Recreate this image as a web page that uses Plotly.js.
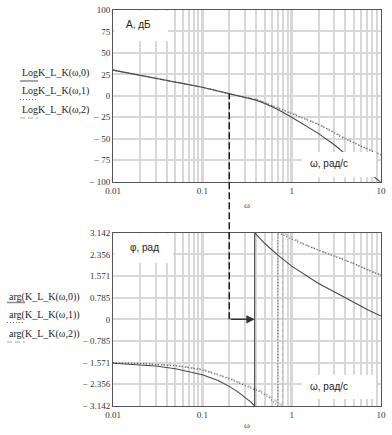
<!DOCTYPE html>
<html>
<head>
<meta charset="utf-8">
<script src="https://cdn.plot.ly/plotly-3.0.1.min.js"></script>
<style>
html,body{margin:0;padding:0;background:#fff;}
#chart{width:392px;height:435px;}
</style>
</head>
<body>
<div id="chart"></div>
<script>
// ---------- data ----------
const omegaMag = [0.01, 0.02, 0.05, 0.1, 0.2, 0.3, 0.4, 0.5, 0.7, 1, 1.5, 2, 3, 3.5, 5, 7, 10];
const mag0 = [30, 24, 16, 10, 2.5, -1.5, -5, -9, -16, -25, -36, -44, -57, -63, -76, -88, -101];
const mag1 = [30, 24, 16, 10, 2.5, -1.2, -4.5, -8, -14, -21, -28, -33.5, -43, -47.5, -55, -62, -69];
const mag2 = [30, 24, 16, 10, 2.6, -1.0, -4.2, -7.6, -13.5, -20.5, -27.5, -33, -42.5, -47, -54.5, -61.5, -68.5];

const omegaPh0 = [0.01, 0.02, 0.03, 0.05, 0.1, 0.15, 0.2, 0.25, 0.3, 0.35, 0.385, 0.385, 0.5, 0.7, 1, 1.5, 2, 3.5, 5, 7, 10];
const ph0 = [-1.59, -1.64, -1.69, -1.79, -2.01, -2.22, -2.43, -2.63, -2.82, -3.0, -3.142, 3.142, 2.75, 2.33, 1.93, 1.55, 1.3, 0.88, 0.6, 0.36, 0.12];

const omegaPh1 = [0.01, 0.02, 0.05, 0.1, 0.2, 0.265, 0.3, 0.44, 0.55, 0.63, 0.70, 0.70, 0.8, 1, 1.24, 1.5, 2, 3.5, 5, 7, 10];
const ph1 = [-1.575, -1.60, -1.68, -1.83, -2.16, -2.33, -2.40, -2.63, -2.82, -3.0, -3.142, 3.142, 3.05, 2.92, 2.77, 2.66, 2.5, 2.21, 2.02, 1.8, 1.6];

const omegaPh2 = [0.01, 0.02, 0.05, 0.1, 0.2, 0.3, 0.44, 0.55, 0.65, 0.79, 0.79, 1, 1.24, 1.5, 2, 3.5, 5, 7, 10];
const ph2 = [-1.573, -1.595, -1.67, -1.81, -2.13, -2.36, -2.58, -2.75, -2.92, -3.142, 3.142, 2.99, 2.8, 2.68, 2.51, 2.22, 2.02, 1.81, 1.61];

const omegaCut = 0.2;     // crossover frequency (dashed line)
const magAtCut = 2.5;
const omegaPi = 0.385;    // phase crossover (arrow end)

const xTickLabels = ['0.01', '0.1', '1', '10'];
const magTickVals = [100, 75, 50, 25, 0, -25, -50, -75, -100];
const magTickText = ['100', '75', '50', '25', '0', '\u2212 25', '\u2212 50', '\u2212 75', '\u2212 100'];
const phTickVals = [3.142, 2.356, 1.571, 0.785, 0, -0.785, -1.571, -2.356, -3.142];
const phTickText = ['3.142', '2.356', '1.571', '0.785', '0', '\u2212 0.785', '\u2212 1.571', '\u2212 2.356', '\u2212 3.142'];

const magLegend = ['LogK_L_K(\u03c9,0)', 'LogK_L_K(\u03c9,1)', 'LogK_L_K(\u03c9,2)'];
const phLegend = ['arg(K_L_K(\u03c9,0))', 'arg(K_L_K(\u03c9,1))', 'arg(K_L_K(\u03c9,2))'];

// ---------- layout geometry ----------
const L = 113, R = 11, T = 10, B = 29, FW = 392, FH = 435;
const W = FW - L - R, H = FH - T - B;
const px = x => (x - L) / W;
const py = y => 1 - (y - T) / H;
const topDom = [py(181.7), 1];
const botDom = [0, py(232.7)];
const topY = v => topDom[0] + (v + 100) / 200 * (topDom[1] - topDom[0]);
const botY = v => botDom[0] + (v + 3.142) / 6.284 * (botDom[1] - botDom[0]);

// log ticks (1..9 per decade) for the grid
const gridVals = [], gridText = [];
[0.01, 0.1, 1].forEach((d, i) => {
  for (let k = 1; k <= 9; k++) { gridVals.push(d * k); gridText.push(k === 1 ? xTickLabels[i] : ''); }
});
gridVals.push(10); gridText.push(xTickLabels[3]);

const styles = [
  {color: '#484848', width: 1.1, dash: 'solid'},
  {color: '#5a5a5a', width: 1.1, dash: '1px,2px'},
  {color: '#c2c2c2', width: 1.5, dash: '4px,2px'}
];
const sampleStyles = [
  {color: '#888', width: 1.5, dash: 'solid'},
  {color: '#777', width: 1.2, dash: '1px,2px'},
  {color: '#c8c8c8', width: 1.5, dash: '5px,3px'}
];

const traces = [
  {x: omegaMag, y: mag2, xaxis: 'x', yaxis: 'y', line: styles[2]},
  {x: omegaMag, y: mag1, xaxis: 'x', yaxis: 'y', line: styles[1]},
  {x: omegaMag, y: mag0, xaxis: 'x', yaxis: 'y', line: styles[0]},
  {x: omegaPh2, y: ph2, xaxis: 'x2', yaxis: 'y2', line: styles[2]},
  {x: omegaPh1, y: ph1, xaxis: 'x2', yaxis: 'y2', line: styles[1]},
  {x: omegaPh0, y: ph0, xaxis: 'x2', yaxis: 'y2', line: styles[0]}
].map(t => Object.assign({type: 'scatter', mode: 'lines', showlegend: false, hoverinfo: 'skip'}, t));

const tickFont = {family: 'Liberation Serif, Times New Roman, serif', size: 9, color: '#333'};
const xBase = {
  type: 'log', range: [-2, 1], tickmode: 'array', tickvals: gridVals, ticktext: gridText,
  showgrid: true, gridcolor: '#d8d8d8', gridwidth: 2, zeroline: false,
  showline: true, mirror: true, linecolor: '#555', linewidth: 1,
  ticks: '', tickfont: tickFont, fixedrange: true
};
const yBase = {
  tickmode: 'array', showgrid: true, gridcolor: '#d8d8d8', gridwidth: 2, zeroline: false,
  showline: true, mirror: true, linecolor: '#555', linewidth: 1,
  ticks: '', tickfont: tickFont, fixedrange: true
};

const shapes = [];
// major decade grid lines
[0.1, 1].forEach(v => {
  shapes.push({type: 'line', xref: 'x', yref: 'y domain', x0: v, x1: v, y0: 0, y1: 1, layer: 'below', line: {color: '#858585', width: 2}});
  shapes.push({type: 'line', xref: 'x2', yref: 'y2 domain', x0: v, x1: v, y0: 0, y1: 1, layer: 'below', line: {color: '#858585', width: 2}});
});
// white label boxes
const box = (x0, y0, x1, y1) => shapes.push({type: 'rect', xref: 'paper', yref: 'paper', x0: px(x0), x1: px(x1), y0: py(y1), y1: py(y0), fillcolor: '#fff', line: {width: 0}, layer: 'above'});
box(114.5, 10.5, 168, 41);
box(302, 152, 376, 177);
box(114.5, 233.5, 173, 263);
box(302, 375, 376, 399);
// legend sample lines
const sample = (x0, x1, y, st) => shapes.push({type: 'line', xref: 'paper', yref: 'paper', x0: px(x0), x1: px(x1), y0: py(y), y1: py(y), line: {color: st.color, width: st.width, dash: st.dash}});
[81, 99.5, 118].forEach((y, i) => sample(20, 38, y, sampleStyles[i]));
[302.5, 322.5, 342].forEach((y, i) => sample(7, 25, y, sampleStyles[i]));
// crossover dashed connector
shapes.push({type: 'line', xref: 'x', yref: 'paper', x0: omegaCut, x1: omegaCut, y0: botY(0), y1: topY(magAtCut), layer: 'above', line: {color: '#000', width: 1.3, dash: '7px,3px'}});

const legFont = {family: 'Liberation Serif, Times New Roman, serif', size: 10, color: '#222'};
const lblFont = {family: 'Liberation Sans, Arial, sans-serif', size: 10, color: '#222'};
const annotations = [];
const txt = (x, y, text, font, xanchor) => annotations.push({xref: 'paper', yref: 'paper', x: px(x), y: py(y), text: text, showarrow: false, font: font, xanchor: xanchor || 'left', yanchor: 'middle'});
[73, 91.5, 109.5].forEach((y, i) => txt(20, y, magLegend[i], legFont));
[296.5, 315, 333.5].forEach((y, i) => txt(7, y, phLegend[i], legFont));
txt(124, 24.5, 'A, дБ', lblFont);
txt(308, 163.5, '\u03c9, рад/с', lblFont);
txt(128, 247, '\u03c6, рад', lblFont);
txt(308, 386, '\u03c9, рад/с', lblFont);
txt(247, 205, '\u03c9', {family: 'Liberation Serif, serif', size: 9, color: '#444'}, 'center');
txt(247, 424.5, '\u03c9', {family: 'Liberation Serif, serif', size: 9, color: '#444'}, 'center');
// arrow to phase crossover
annotations.push({xref: 'x2', yref: 'y2', axref: 'x2', ayref: 'y2', x: Math.log10(omegaPi), y: 0, ax: Math.log10(omegaCut), ay: 0, text: '', showarrow: true, arrowhead: 2, arrowsize: 1.1, arrowwidth: 1.5, arrowcolor: '#333', standoff: 0, startstandoff: 0});

const layout = {
  width: FW, height: FH, margin: {l: L, r: R, t: T, b: B}, paper_bgcolor: '#fff', plot_bgcolor: '#fff',
  xaxis: Object.assign({}, xBase, {anchor: 'y', domain: [0, 1]}),
  yaxis: Object.assign({}, yBase, {anchor: 'x', domain: topDom, range: [-100, 100], tickvals: magTickVals, ticktext: magTickText}),
  xaxis2: Object.assign({}, xBase, {anchor: 'y2', domain: [0, 1]}),
  yaxis2: Object.assign({}, yBase, {anchor: 'x2', domain: botDom, range: [-3.142, 3.142], tickvals: phTickVals, ticktext: phTickText}),
  shapes: shapes, annotations: annotations, showlegend: false
};

Plotly.newPlot('chart', traces, layout, {displayModeBar: false, staticPlot: true});
</script>
</body>
</html>
